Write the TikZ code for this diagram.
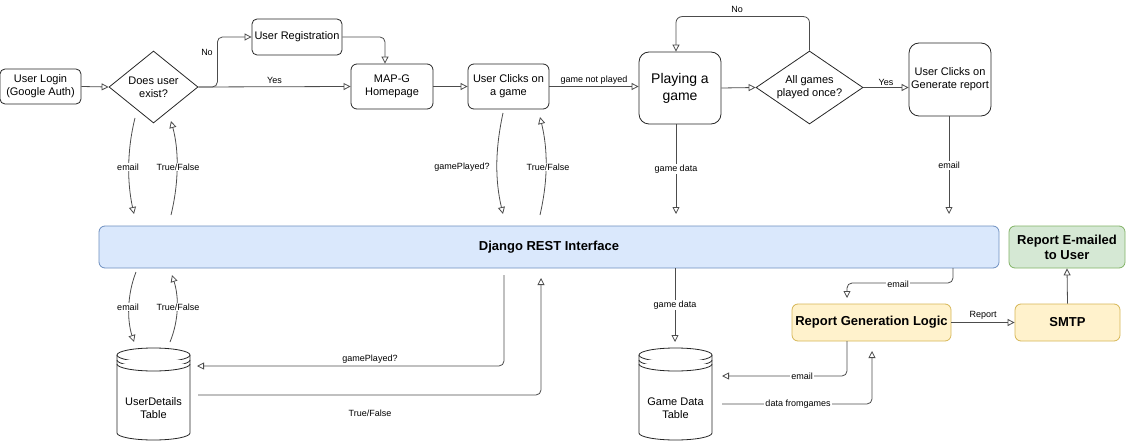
\documentclass[tikz,border=0pt]{standalone}
\usepackage{fontspec}
\setmainfont{Liberation Sans}
\usetikzlibrary{arrows.meta,shapes.geometric,calc}
\definecolor{blfill}{HTML}{DAE8FC}
\definecolor{bldraw}{HTML}{6C8EBF}
\definecolor{grfill}{HTML}{D5E8D4}
\definecolor{grdraw}{HTML}{82B366}
\definecolor{yefill}{HTML}{FFF2CC}
\definecolor{yedraw}{HTML}{D6B656}
% cylinder: #1 left x, #2 right x, #3 top y, #4 bottom y (pixel units, y downwards)
\newcommand\mydbshape[4]{%
  \draw[cyl] (#1,-#3-7) -- (#1,-#4+7)
    arc[start angle=180,end angle=360,x radius={(#2-#1)/2},y radius=7]
    -- (#2,-#3-7)
    arc[start angle=0,end angle=180,x radius={(#2-#1)/2},y radius=7] -- cycle;
  \draw[cyl] (#1,-#3-7) arc[start angle=180,end angle=360,x radius={(#2-#1)/2},y radius=7];
  \draw[cyl] (#1,-#3-12) arc[start angle=180,end angle=360,x radius={(#2-#1)/2},y radius=7];
  \draw[cyl] (#1,-#3-16) arc[start angle=180,end angle=360,x radius={(#2-#1)/2},y radius=7];
}
\begin{document}
\begin{tikzpicture}[x=1pt,y=1pt,
  line width=0.8pt,
  box/.style={draw=black!85, rounded corners=5pt, align=center, inner sep=0pt,
    font=\fontsize{11}{13}\selectfont},
  dia/.style={draw=black!85, diamond, align=center, inner sep=0pt,
    font=\fontsize{11}{13}\selectfont},
  arr/.style={draw=black!70, -{Triangle[open,length=7pt,width=7pt]}},
  lbl/.style={font=\fontsize{9}{11}\selectfont, inner sep=1pt},
  lblw/.style={lbl, fill=white},
  boldbox/.style={draw, font=\fontsize{13}{15}\selectfont\bfseries, align=center,
    inner sep=0pt, rounded corners=6pt},
  cyl/.style={draw=black!85, fill=white},
  dbtext/.style={font=\fontsize{11}{13}\selectfont, align=center, inner sep=0pt},
  ghost/.style={inner sep=0pt}
]
\useasboundingbox (0,0) rectangle (1126,-441);

% ---------- top row ----------
\node[box, minimum width=81pt, minimum height=35pt] (login) at (40.5,-86.5) {User Login\\(Google Auth)};
\node[dia, minimum width=89pt, minimum height=72pt, aspect=1.24] (d1) at (153.5,-87) {Does user\\exist?};
\node[box, minimum width=90pt, minimum height=36pt] (reg) at (297,-37) {User Registration};
\node[box, minimum width=82pt, minimum height=45pt, rounded corners=6pt] (map) at (392,-86.5) {MAP-G\\Homepage};
\node[box, minimum width=81pt, minimum height=45pt, rounded corners=6pt] (uc) at (508.5,-86.5) {User Clicks on\\a game};
\node[box, minimum width=82pt, minimum height=72pt, rounded corners=10pt,
  font=\fontsize{14}{17}\selectfont] (play) at (680,-88) {Playing a\\game};
\node[dia, minimum width=107pt, minimum height=73pt, aspect=1.47] (d2) at (809.5,-87.5) {All games\\played once?};
\node[box, minimum width=82pt, minimum height=73pt, rounded corners=10pt] (gen) at (950,-79.5) {User Clicks on\\Generate report};

% ---------- middle row ----------
\node[boldbox, draw=bldraw, fill=blfill, minimum width=900pt, minimum height=42pt] (django) at (549,-247) {Django REST Interface};
\node[boldbox, draw=grdraw, fill=grfill, minimum width=116pt, minimum height=42pt] (rem) at (1067,-247) {Report E-mailed\\to User};
\node[boldbox, draw=yedraw, fill=yefill, minimum width=159pt, minimum height=37pt] (rgl) at (871.5,-322.5) {Report Generation Logic};
\node[boldbox, draw=yedraw, fill=yefill, minimum width=105pt, minimum height=37pt] (smtp) at (1067.5,-322.5) {SMTP};

% ---------- databases ----------
\mydbshape{117}{190}{348}{440}
\node[ghost, minimum width=73pt, minimum height=92pt] (udt) at (153.5,-394) {};
\node[dbtext] (udtL) at (153.5,-408) {UserDetails\\Table};
\mydbshape{639}{712}{348}{440}
\node[ghost, minimum width=73pt, minimum height=92pt] (gdt) at (675.5,-394) {};
\node[dbtext] (gdtL) at (675.5,-408) {Game Data\\Table};

% ---------- free coordinates ----------
\coordinate (tlA) at (135,-118);  \coordinate (tlB) at (134,-214);
\coordinate (tlC) at (171,-215);  \coordinate (tlD) at (171,-121);
\coordinate (tmA) at (503,-113);  \coordinate (tmB) at (503,-214);
\coordinate (tmC) at (540,-215);  \coordinate (tmD) at (540,-117);
\coordinate (genE) at (949,-214);
\coordinate (playE) at (676,-214);
\coordinate (blA) at (136,-272);  \coordinate (blB) at (134,-342);
\coordinate (blC) at (170,-342);  \coordinate (blD) at (172,-275);
\coordinate (gpA) at (504,-275);  \coordinate (gpB) at (197,-366);
\coordinate (tfA) at (198,-395);  \coordinate (tfB) at (541,-278);
\coordinate (gdE) at (675,-342);
\coordinate (emA) at (953,-268);  \coordinate (emB) at (847,-298);
\coordinate (emC) at (847,-341);  \coordinate (emD) at (722,-376);
\coordinate (dfA) at (722,-404);  \coordinate (dfB) at (872,-351);

% ---------- connectors: top row ----------
\draw[arr] (login.east) -- (d1.west);
\draw[arr, rounded corners=5pt] (d1.east) -- ++(19,0) |- (reg.west);
\node[lbl] (noA) at (207,-52) {No};
\draw[arr] (d1.east) -- (map.west) node[lbl, midway, above=2pt] {Yes};
\draw[arr, rounded corners=5pt] (reg.east) -| ($(map.north)+(-7,0)$);
\draw[arr] (map.east) -- (uc.west);
\draw[arr] (uc.east) -- (uc.east -| play.west) node[lbl, midway, above=1pt] {game not played};
\draw[arr] (play.east) -- (d2.west);
\draw[arr, rounded corners=6pt] (d2.north) -- ++(0,34) -| ($(play.north)+(-4,0)$);
\node[lbl] (noB) at (737,-9) {No};
\draw[arr] (d2.east) -- (d2.east -| gen.west) node[lbl, midway, above=1pt] {Yes};
\draw[arr] (gen.south -| genE) -- (genE) node[lblw, midway] {email};
\draw[arr] (play.south -| playE) -- (playE) node[lblw, midway] {game data};

% ---------- connectors: top row to Django ----------
\draw[arr] (tlA) .. controls (127,-150) and (127,-182) .. (tlB);
\node[lblw] at (128,-167) {email};
\draw[arr] (tlC) .. controls (179,-182) and (179,-150) .. (tlD);
\node[lblw] at (178,-167) {True/False};
\draw[arr] (tmA) .. controls (495,-150) and (495,-180) .. (tmB);
\node[lbl] at (462,-167) {gamePlayed?};
\draw[arr] (tmC) .. controls (548,-180) and (548,-150) .. (tmD);
\node[lblw] at (548,-167) {True/False};

% ---------- connectors: Django to bottom ----------
\draw[arr] (blA) .. controls (127,-295) and (127,-320) .. (blB);
\node[lblw] at (128,-307) {email};
\draw[arr] (blC) .. controls (179,-320) and (179,-297) .. (blD);
\node[lblw] at (178,-307) {True/False};
\draw[arr, rounded corners=5pt] (gpA) |- (gpB);
\node[lbl] at (370,-359) {gamePlayed?};
\draw[arr, rounded corners=5pt] (tfA) -| (tfB);
\node[lbl] at (370,-413) {True/False};
\draw[arr] (django.south -| gdE) -- (gdE) node[lblw, midway] {game data};
\draw[arr, rounded corners=5pt] (emA) -- (953,-283) -- (847,-283) -- (emB);
\node[lblw] at (898,-284) {email};
\draw[arr, rounded corners=5pt] (emC) |- (emD);
\node[lblw] at (802,-376) {email};
\draw[arr, rounded corners=5pt] (dfA) -| (dfB);
\node[lblw] at (798,-404) {data fromgames};
\draw[arr] (rgl.east) -- (smtp.west) node[lbl, midway, above=2pt] {Report};
\draw[arr] (smtp.north) -- (rem.south);
\end{tikzpicture}
\end{document}
